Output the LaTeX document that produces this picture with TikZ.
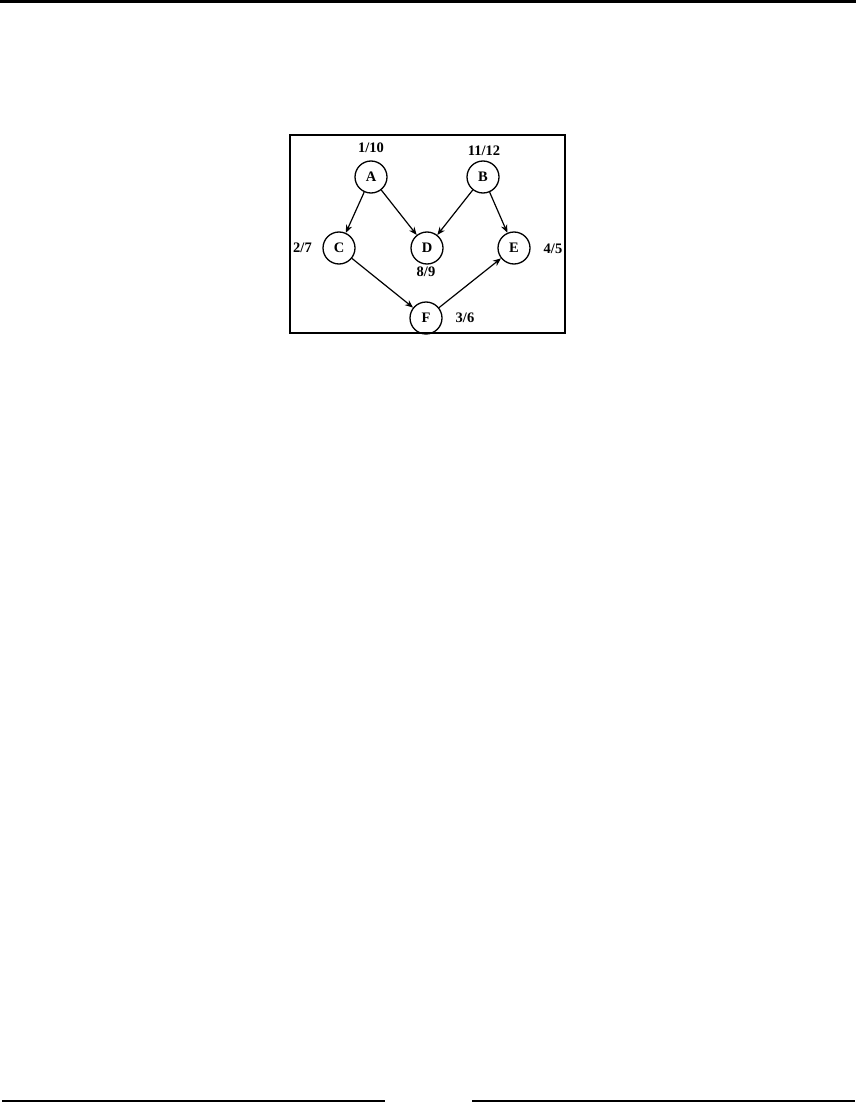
\documentclass[tikz,border=0pt]{standalone}
\usepackage{fontspec}
\setmainfont{Liberation Serif}
\usetikzlibrary{arrows.meta}

\begin{document}
\begin{tikzpicture}[
    x=1pt, y=-1pt,
    every node/.style={font=\fontsize{14.5}{16}\selectfont\bfseries},
    vertex/.style={circle, draw=black, line width=1.3pt, minimum size=32pt, inner sep=0pt},
    stamp/.style={inner sep=0pt},
    edge/.style={-{Stealth[length=8pt,width=6.5pt]}, line width=1.2pt}
]
\useasboundingbox (0,0) rectangle (856,1105);

% page rules
\draw[line width=2.6pt] (0,1.3) -- (856,1.3);
\draw[line width=1.3pt] (2,1101) -- (385,1101);
\draw[line width=1.3pt] (472,1101) -- (855,1101);

% frame
\draw[line width=1.8pt] (290,135) rectangle (565,333);

% vertices
\node[vertex] (A) at (371,177) {A};
\node[vertex] (B) at (483,177) {B};
\node[vertex] (C) at (339,248) {C};
\node[vertex] (D) at (427,248) {D};
\node[vertex] (E) at (514,248) {E};
\node[vertex] (F) at (426,318) {F};

% discovery/finish times
\node[stamp] (tA) at (371,148) {1/10};
\node[stamp] (tB) at (484,151) {11/12};
\node[stamp] (tC) at (302.5,248) {2/7};
\node[stamp] (tD) at (426,272) {8/9};
\node[stamp] (tE) at (553,249) {4/5};
\node[stamp] (tF) at (465,318) {3/6};

% edges
\draw[edge] (A) -- (C);
\draw[edge] (A) -- (D);
\draw[edge] (B) -- (D);
\draw[edge] (B) -- (E);
\draw[edge] (C) -- (F);
\draw[edge] (F) -- (E);

\end{tikzpicture}
\end{document}
